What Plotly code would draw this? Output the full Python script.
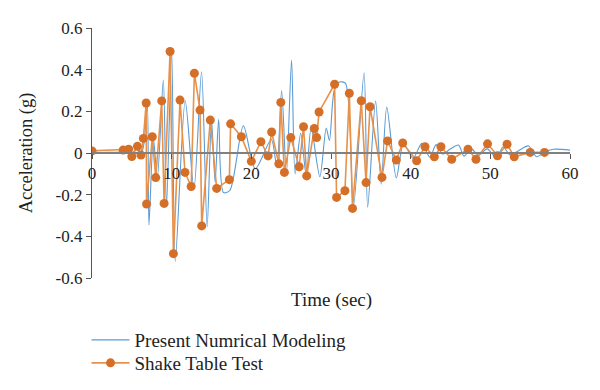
import plotly.graph_objects as go

# Numerical model (blue) - read extremes
model_t = [0, 2.0, 4.0, 5.0, 5.6, 6.1, 6.5, 6.95, 7.15, 7.7, 8.2, 8.95, 9.35, 10.0, 10.45,
           11.7, 12.8, 13.75, 14.45, 15.0, 15.45, 15.9, 16.5, 17.3, 19.0, 20.5, 22.5, 23.2,
           23.8, 24.4, 25.05, 25.5, 26.2, 26.9, 27.5, 28.6, 29.4, 29.8, 30.4, 31.0, 31.8,
           32.8, 34.15, 34.6, 35.6, 36.3, 37.0, 38.2, 39.1, 40.3, 41.4, 42.4, 43.2, 44.0,
           45.0, 46.0, 46.7, 47.6, 48.5, 49.6, 50.8, 51.6, 52.5, 53.5, 54.8, 55.8, 56.8,
           57.9, 60.0]
model_a = [0.0, 0.003, 0.005, 0.0, 0.02, -0.015, 0.04, 0.23, -0.345, 0.07, -0.12, 0.35, -0.26, 0.49, -0.52,
           0.25, -0.17, 0.39, -0.355, 0.16, -0.14, 0.16, -0.19, -0.18, 0.13, -0.075, 0.065, -0.065,
           0.30, -0.10, 0.446, -0.10, 0.094, -0.11, 0.12, -0.114, 0.12, 0.06, 0.30, 0.34, 0.335,
           -0.26, 0.385, -0.26, 0.25, -0.15, 0.22, -0.12, 0.045, -0.025, 0.046, -0.02, 0.04, -0.005,
           0.02, 0.038, -0.015, 0.02, -0.01, 0.02, -0.025, 0.03, -0.01, 0.01, 0.034, -0.018, 0.005,
           0.018, 0.014]

# Shake table test (orange)
test_t = [0, 3.9, 4.6, 5.0, 5.7, 6.15, 6.45, 6.8, 6.85, 7.57, 8.0, 8.75, 9.05, 9.8, 10.22,
          11.05, 11.67, 12.45, 12.85, 13.56, 13.77, 14.85, 15.65, 17.24, 17.4, 18.75, 20.0,
          21.2, 22.1, 22.55, 23.45, 23.7, 24.15, 24.95, 26.0, 26.55, 26.95, 27.9, 28.2, 28.5,
          30.45, 30.7, 31.75, 32.3, 32.7, 33.8, 34.4, 34.9, 36.4, 37.1, 38.2, 39.0, 40.75,
          41.8, 42.97, 43.8, 45.15, 47.2, 48.2, 49.65, 50.9, 52.1, 53.0, 55.0, 56.8]
test_a = [0.01, 0.014, 0.018, -0.017, 0.032, -0.01, 0.07, 0.24, -0.245, 0.078, -0.118, 0.25, -0.242, 0.487, -0.483,
          0.254, -0.093, -0.161, 0.383, 0.206, -0.35, 0.158, -0.17, -0.128, 0.14, 0.078, -0.04,
          0.054, -0.014, 0.101, -0.052, 0.243, -0.093, 0.074, -0.066, 0.126, -0.11, 0.118, 0.074, 0.197,
          0.33, -0.213, -0.181, 0.287, -0.266, 0.251, -0.142, 0.222, -0.117, 0.058, -0.034, 0.048, -0.037,
          0.03, -0.018, 0.03, -0.03, 0.018, -0.03, 0.044, -0.013, 0.042, -0.018, 0.003, 0.003]

x_ticks = [0, 10, 20, 30, 40, 50, 60]
y_ticks = [-0.6, -0.4, -0.2, 0, 0.2, 0.4, 0.6]
y_labels = ["-0.6", "-0.4", "-0.2", "0", "0.2", "0.4", "0.6"]

FONT = "Liberation Serif"
fig = go.Figure()
fig.add_trace(go.Scatter(x=model_t, y=model_a, mode="lines", name="Present Numrical Modeling",
                         legend="legend",
                         line=dict(color="#5B9BD5", width=1.1, shape="spline", smoothing=0.8)))
fig.add_trace(go.Scatter(x=test_t, y=test_a, mode="lines+markers", name="Shake Table Test",
                         legend="legend2",
                         line=dict(color="#E8914A", width=1.6),
                         marker=dict(color="#D56F28", size=9)))

leg_common = dict(x=-0.0115, xanchor="left", yanchor="middle", bgcolor="rgba(0,0,0,0)",
                  font=dict(family=FONT, size=19, color="#222"), itemwidth=38)

fig.update_layout(
    width=600, height=390,
    margin=dict(l=84, r=38, t=20, b=120, autoexpand=False),
    paper_bgcolor="white", plot_bgcolor="white",
    font=dict(family=FONT, size=17, color="#222"),
    showlegend=True,
    legend=dict(y=-0.248, **leg_common),
    legend2=dict(y=-0.34, **leg_common),
    xaxis=dict(range=[0, 60], tickvals=x_ticks, ticktext=[str(v) for v in x_ticks],
               showgrid=False, zeroline=False, showline=True, linecolor="#808080", linewidth=1.8,
               ticks="outside", ticklen=5, tickcolor="#555", anchor="free", position=0.5,
               tickfont=dict(family=FONT, size=17, color="#222")),
    yaxis=dict(range=[-0.6, 0.6], tickvals=y_ticks, ticktext=y_labels,
               showgrid=False, zeroline=False, showline=True, linecolor="#555", linewidth=1.2,
               ticks="outside", ticklen=5, tickcolor="#555",
               title=dict(text="Acceleration (g)", font=dict(family=FONT, size=18.5, color="#222"), standoff=18),
               tickfont=dict(family=FONT, size=17, color="#222")),
    annotations=[dict(text="Time (sec)", x=0.5, y=-0.088, xref="paper", yref="paper",
                      xanchor="center", yanchor="middle", showarrow=False,
                      font=dict(family=FONT, size=19, color="#222"))],
)
fig.write_html("out.html")
